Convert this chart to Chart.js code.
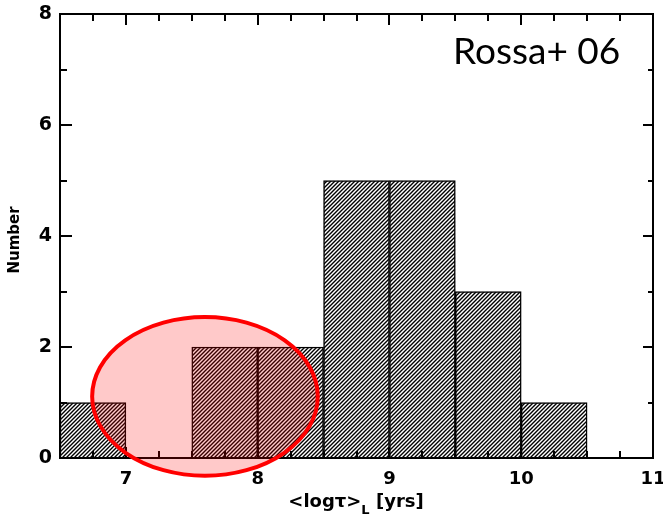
<!DOCTYPE html>
<html>
<head>
<meta charset="utf-8">
<script src="https://cdn.jsdelivr.net/npm/chart.js@4"></script>
<style>
  html, body { margin: 0; padding: 0; background: #fff; }
  #wrap { width: 663px; height: 517px; }
</style>
</head>
<body>
<div id="wrap"><canvas id="histChart"></canvas></div>
<script>
// histogram of light-weighted ages, bins of 0.5 dex
const binCenters = [6.75, 7.25, 7.75, 8.25, 8.75, 9.25, 9.75, 10.25];
const counts = [1, 0, 2, 2, 5, 5, 3, 1];
const xTickLabels = [7, 8, 9, 10, 11];
const yTickLabels = [0, 2, 4, 6, 8];

// highlighted region (data units)
const ring = { cx: 7.6, cy: 1.11, rx: 0.856, ry: 1.43 };

function makeHatch() {
    const size = 4;
    const c = document.createElement('canvas');
    c.width = size;
    c.height = size;
    const g = c.getContext('2d');
    g.fillStyle = '#fff';
    g.fillRect(0, 0, size, size);
    g.strokeStyle = '#000';
    g.lineWidth = 1.4;
    g.beginPath();
    g.moveTo(-1, size + 1); g.lineTo(size + 1, -1);
    g.moveTo(-1, 1); g.lineTo(1, -1);
    g.moveTo(size - 1, size + 1); g.lineTo(size + 1, size - 1);
    g.stroke();
    return g.createPattern(c, 'repeat');
}

// box frame with inward ticks on all four sides
const frameTicks = {
    id: 'frameTicks',
    afterDatasetsDraw(chart) {
        const { ctx, chartArea: a, scales: { x, y } } = chart;
        ctx.save();
        ctx.strokeStyle = '#000';
        ctx.lineWidth = 2;
        ctx.strokeRect(a.left, a.top, a.right - a.left, a.bottom - a.top);
        ctx.beginPath();
        for (let i = 1; i < 18; i++) {
            const v = 6.5 + i * 0.25;
            const px = Math.round(x.getPixelForValue(v));
            const len = Number.isInteger(v) ? 11 : 7;
            ctx.moveTo(px, a.bottom); ctx.lineTo(px, a.bottom - len);
            ctx.moveTo(px, a.top); ctx.lineTo(px, a.top + len);
        }
        for (let v = 1; v < 8; v++) {
            const py = Math.round(y.getPixelForValue(v));
            const major = v % 2 === 0;
            ctx.moveTo(a.left, py); ctx.lineTo(a.left + (major ? 12 : 7), py);
            ctx.moveTo(a.right, py); ctx.lineTo(a.right - (major ? 10 : 5), py);
        }
        ctx.stroke();
        ctx.restore();
    },
    afterDraw(chart) {
        const { ctx, chartArea: a, scales: { x, y } } = chart;
        ctx.save();

        // red ellipse over the young bins
        const cx = x.getPixelForValue(ring.cx);
        const cy = y.getPixelForValue(ring.cy);
        const rx = x.getPixelForValue(ring.cx + ring.rx) - cx;
        const ry = cy - y.getPixelForValue(ring.cy + ring.ry);
        ctx.beginPath();
        ctx.ellipse(cx, cy, rx, ry, 0, 0, Math.PI * 2);
        ctx.fillStyle = 'rgba(255, 0, 0, 0.21)';
        ctx.fill();
        ctx.lineWidth = 4;
        ctx.strokeStyle = '#ff0000';
        ctx.stroke();

        // axis titles
        ctx.fillStyle = '#000';
        ctx.textBaseline = 'alphabetic';
        const main = "bold 18px 'DejaVu Sans'";
        const sub = "bold 13px 'DejaVu Sans'";
        ctx.font = main;
        const w1 = ctx.measureText('<logτ>').width;
        const w3 = ctx.measureText(' [yrs]').width;
        ctx.font = sub;
        const w2 = ctx.measureText('L').width;
        let tx = 356 - (w1 + w2 + w3) / 2;
        ctx.textAlign = 'left';
        ctx.font = main;
        ctx.fillText('<logτ>', tx, 507);
        ctx.font = sub;
        ctx.fillText('L', tx + w1, 514);
        ctx.font = main;
        ctx.fillText(' [yrs]', tx + w1 + w2, 507);

        ctx.translate(19, 240);
        ctx.rotate(-Math.PI / 2);
        ctx.textAlign = 'center';
        ctx.font = "bold 15px 'DejaVu Sans'";
        ctx.fillText('Number', 0, 0);
        ctx.restore();

        // reference tag
        ctx.save();
        ctx.fillStyle = '#000';
        ctx.font = "37px Lato";
        ctx.textAlign = 'left';
        ctx.fillText('Rossa+ 06', 453, 64);
        ctx.restore();
    }
};

document.addEventListener('DOMContentLoaded', () => {
    const ctx = document.getElementById('histChart').getContext('2d');

    new Chart(ctx, {
        type: 'bar',
        data: {
            datasets: [{
                data: binCenters.map((c, i) => ({ x: c, y: counts[i] })),
                backgroundColor: makeHatch(),
                borderColor: '#000',
                borderWidth: 1.5,
                barPercentage: 1,
                categoryPercentage: 1
            }]
        },
        options: {
            responsive: true,
            maintainAspectRatio: false,
            animation: false,
            layout: {
                padding: { top: 14, right: 10, left: 0, bottom: 0 }
            },
            scales: {
                x: {
                    type: 'linear',
                    min: 6.5,
                    max: 11,
                    offset: false,
                    grid: { display: false, drawTicks: false },
                    border: { display: false },
                    ticks: { color: '#000', font: { family: 'DejaVu Sans', size: 18, weight: 'bold' }, padding: 11, maxRotation: 0 },
                    afterBuildTicks: (s) => { s.ticks = xTickLabels.map(v => ({ value: v })); },
                    afterFit: (s) => { s.height = 59; s.paddingLeft = 0; s.paddingRight = 0; }
                },
                y: {
                    min: 0,
                    max: 8,
                    grid: { display: false, drawTicks: false },
                    border: { display: false },
                    ticks: { color: '#000', font: { family: 'DejaVu Sans', size: 19, weight: 'bold' }, padding: 8 },
                    afterBuildTicks: (s) => { s.ticks = yTickLabels.map(v => ({ value: v })); },
                    afterFit: (s) => { s.width = 60; s.paddingTop = 0; s.paddingBottom = 0; }
                }
            },
            plugins: {
                legend: { display: false },
                tooltip: { enabled: false }
            }
        },
        plugins: [frameTicks]
    });
});
</script>
</body>
</html>
